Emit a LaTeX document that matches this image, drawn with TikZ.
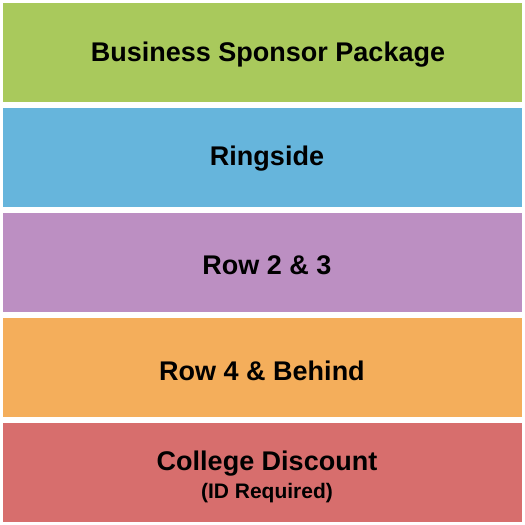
\documentclass[tikz,border=0pt]{standalone}
\usepackage{fontspec}
\setmainfont{Liberation Sans}
\definecolor{cgreen}{HTML}{A9C95C}
\definecolor{cblue}{HTML}{66B5DC}
\definecolor{cpurple}{HTML}{BC8FC2}
\definecolor{corange}{HTML}{F4AE5B}
\definecolor{cred}{HTML}{D76E6D}
\begin{document}
\begin{tikzpicture}[x=1pt,y=-1pt,
  band/.style={draw=none,minimum width=519pt,minimum height=99pt,inner sep=0pt,anchor=north west},
  lbl/.style={font=\bfseries\fontsize{27}{32}\selectfont},
  sublbl/.style={font=\bfseries\fontsize{21}{25}\selectfont}]
\useasboundingbox[fill=white] (0,0) rectangle (525,525);
\node[band,fill=cgreen] (b1) at (3,3) {};
\node[band,fill=cblue] (b2) at (3,108) {};
\node[band,fill=cpurple] (b3) at (3,213) {};
\node[band,fill=corange] (b4) at (3,318) {};
\node[band,fill=cred] (b5) at (3,423) {};
\node[lbl] (t1) at (268,55) {Business Sponsor Package};
\node[lbl] (t2) at (267,159) {Ringside};
\node[lbl] (t3) at (267,265) {Row 2 \& 3};
\node[lbl] (t4) at (262,371) {Row 4 \& Behind};
\node[lbl] (t5) at (267,464) {College Discount};
\node[sublbl] (t6) at (267,493) {(ID Required)};
\end{tikzpicture}
\end{document}
